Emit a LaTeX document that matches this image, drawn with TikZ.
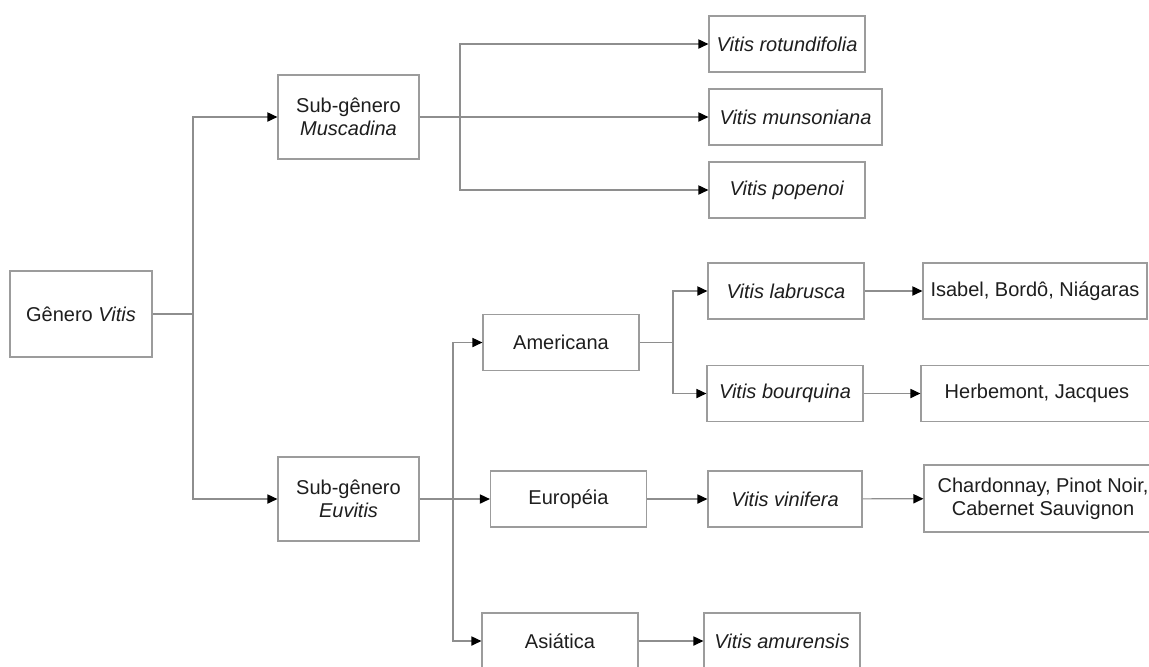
\documentclass[tikz,border=0pt]{standalone}
\usepackage{fontspec}
\setmainfont{Liberation Sans}
\usepackage{xcolor}
\usepackage{tikz}
\usetikzlibrary{arrows.meta}
\definecolor{gline}{HTML}{8E8E8E}
\definecolor{gborder}{HTML}{9C9C9C}
\definecolor{gtext}{HTML}{1E1E1E}
\tikzset{
  >={Triangle[length=5pt,width=4.6pt,color=black]},
  gbox/.style={draw=gborder, line width=0.6pt, fill=white, text=gtext,
               align=center, inner sep=0pt,
               font=\fontsize{10}{11.5}\selectfont,
               minimum width=78pt, minimum height=28pt},
  gwide/.style={gbox, minimum width=112pt},
  gsub/.style={gbox, minimum width=70.5pt, minimum height=42pt},
  glink/.style={gline, line width=0.6pt},
}

\begin{document}
\begin{tikzpicture}[x=0.5pt, y=-0.5pt]

  \useasboundingbox (0,0) rectangle (1149,666);
  \clip (0,0) rectangle (1149,666);

  % gênero e sub-gêneros
  \node[gsub, minimum width=71pt, minimum height=43pt] (genero) at (81,314) {Gênero \emph{Vitis}};
  \node[gsub] (muscadina) at (348.5,117) {Sub-gênero\\\emph{Muscadina}};
  \node[gsub] (euvitis)   at (348.5,499) {Sub-gênero\\\emph{Euvitis}};

  % espécies de Muscadina
  \node[gbox] (rotundifolia) at (787,44) {\emph{Vitis rotundifolia}};
  \node[gbox, minimum width=86.5pt] (munsoniana) at (795.5,117) {\emph{Vitis munsoniana}};
  \node[gbox] (popenoi) at (787,190) {\emph{Vitis popenoi}};

  % grupos de Euvitis
  \node[gbox] (americana) at (561,342.5) {Americana};
  \node[gbox] (europeia)  at (568.5,499) {Européia};
  \node[gbox] (asiatica)  at (560,641)   {Asiática};

  % espécies
  \node[gbox] (labrusca)  at (786,291)   {\emph{Vitis labrusca}};
  \node[gbox] (bourquina) at (785,393.5) {\emph{Vitis bourquina}};
  \node[gbox, minimum width=77pt] (vinifera) at (785,499) {\emph{Vitis vinifera}};
  \node[gbox] (amurensis) at (782,641)   {\emph{Vitis amurensis}};

  % cultivares
  \node[gwide] (isabel) at (1035,291) {Isabel, Bordô, Niágaras};
  \node[gwide, minimum width=116pt] (herbemont) at (1037,393.5) {Herbemont, Jacques};
  \node[gwide, minimum width=119pt, minimum height=33.5pt] (chardonnay) at (1043,498.5)
       {Chardonnay, Pinot Noir,\\Cabernet Sauvignon};

  % junções
  \coordinate (jgen) at (193,314);
  \coordinate (jmus) at (460,117);
  \coordinate (jeuv) at (453,499);
  \coordinate (jame) at (673,342.5);

  % ligações
  \draw[glink] (genero) -- (jgen);
  \draw[glink,->] (jgen) |- (muscadina);
  \draw[glink,->] (jgen) |- (euvitis);

  \draw[glink] (muscadina) -- (jmus);
  \draw[glink,->] (jmus) |- (rotundifolia);
  \draw[glink,->] (jmus) -- (munsoniana);
  \draw[glink,->] (jmus) |- (popenoi);

  \draw[glink] (euvitis) -- (jeuv);
  \draw[glink,->] (jeuv) |- (americana);
  \draw[glink,->] (jeuv) -- (europeia);
  \draw[glink,->] (jeuv) |- (asiatica);

  \draw[glink] (americana) -- (jame);
  \draw[glink,->] (jame) |- (labrusca);
  \draw[glink,->] (jame) |- (bourquina);

  \draw[glink,->] (labrusca) -- (isabel);
  \draw[glink,->] (bourquina) -- (herbemont);
  \draw[glink,->] (europeia) -- (vinifera);
  \draw[glink,->] (vinifera) -- (chardonnay);
  \draw[glink,->] (asiatica) -- (amurensis);

\end{tikzpicture}
\end{document}
